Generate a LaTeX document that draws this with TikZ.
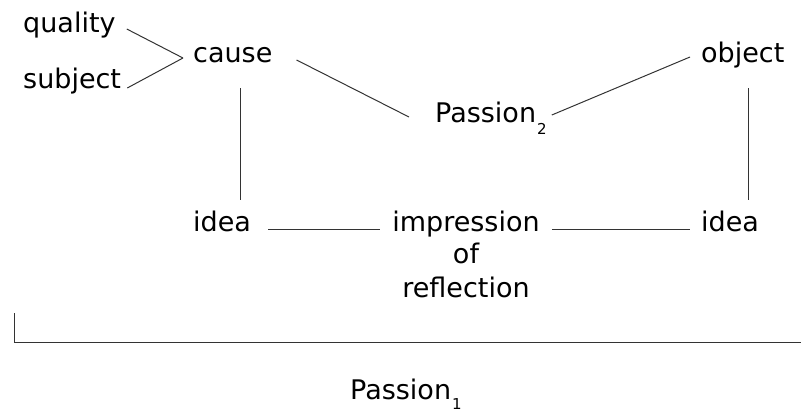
\documentclass[tikz,border=0pt]{standalone}
\usepackage{fontspec}
\setmainfont{DejaVu Sans}
\usetikzlibrary{calc}

% lowered index after "Passion"
\newcommand{\subidx}[2][12pt]{\kern1pt\raisebox{-#1}{\fontsize{15}{15}\selectfont #2}}

\tikzset{
  word/.style={inner sep=0pt, anchor=base west, font=\fontsize{27}{33}\selectfont},
  cword/.style={inner sep=0pt, anchor=base, font=\fontsize{27}{33}\selectfont},
  link/.style={draw=black!80, line width=1pt},
}

\begin{document}
\begin{tikzpicture}[x=1pt, y=-1pt]
  \useasboundingbox (0,0) rectangle (801,413);

  % top row
  \node[word] (quality) at (23,32)  {quality};
  \node[word] (subject) at (23,88)  {subject};
  \node[word] (cause)   at (193,62) {cause};
  \node[word] (object)  at (701,62) {object};
  \node[word] (p2)      at (435,122) {Passion\subidx{2}};

  % bottom row
  \node[word]  (ideaL) at (193,231) {idea};
  \node[cword] (imp)   at (466,231) {impression};
  \node[cword] (of)    at (466,263) {of};
  \node[cword] (refl)  at (466,297) {reflection};
  \node[word]  (ideaR) at (701,231) {idea};

  \node[word] (p1) at (350,399) {Passion\subidx[10pt]{1}};

  % connectors
  \coordinate (fork) at ($(cause.base west)+(-10,-4)$);
  \draw[link] ($(quality.base east)+(11,-3)$) -- (fork);
  \draw[link] ($(subject.base east)+(6,0)$) -- (fork);

  \draw[link] ($(cause.base west)+(47,26)$) -- ($(ideaL.base west)+(47,-31)$);
  \draw[link] ($(object.base west)+(47,26)$) -- ($(ideaR.base west)+(47,-31)$);

  \draw[link] ($(cause.base east)+(24,-2)$) -- ($(p2.base west)+(-26,-5)$);
  \draw[link] ($(p2.base east)+(5,-7)$) -- ($(object.base west)+(-11,-5)$);

  \draw[link] ($(ideaL.base east)+(17,-2)$) -- ($(imp.base west)+(-12,-2)$);
  \draw[link] ($(imp.base east)+(12,-2)$) -- ($(ideaR.base west)+(-11,-2)$);

  % bracket spanning the whole group
  \draw[link] (14,313) |- (801,342);
\end{tikzpicture}
\end{document}
